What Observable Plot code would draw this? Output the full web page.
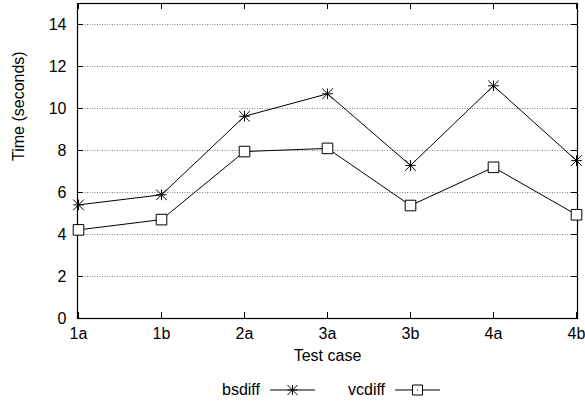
<!DOCTYPE html>
<html>
<head>
<meta charset="utf-8">
<script src="https://cdn.jsdelivr.net/npm/d3@7"></script>
<script src="https://cdn.jsdelivr.net/npm/@observablehq/plot@0.6"></script>
<style>
  html, body { margin: 0; padding: 0; background: #fff; }
  #chart { width: 585px; font-family: "Liberation Sans", Arial, Helvetica, sans-serif; }
  #legend { position: relative; height: 35px; font-size: 16px; color: #000; }
  #legend .item { position: absolute; top: 13px; display: flex; align-items: center; height: 18px; }
  #legend svg { margin-left: 10px; overflow: visible; }
</style>
</head>
<body>
<div id="chart"></div>
<script>
// Timing results per test case
const cases = ["1a", "1b", "2a", "3a", "3b", "4a", "4b"];
const bsdiff = [5.41, 5.89, 9.63, 10.70, 7.29, 11.08, 7.52];
const vcdiff = [4.22, 4.71, 7.95, 8.10, 5.38, 7.20, 4.94];
const yTicks = [0, 2, 4, 6, 8, 10, 12, 14];
const seriesNames = ["bsdiff", "vcdiff"];

const rows = cases.map((c, i) => ({case: c, bsdiff: bsdiff[i], vcdiff: vcdiff[i]}));

// Point symbols: an eight-armed star and an open square
const star = {
  draw(ctx, size) {
    const h = Math.sqrt(size / Math.PI);
    ctx.moveTo(-h, 0); ctx.lineTo(h, 0);
    ctx.moveTo(0, -h); ctx.lineTo(0, h);
    ctx.moveTo(-h, -h); ctx.lineTo(h, h);
    ctx.moveTo(-h, h); ctx.lineTo(h, -h);
  }
};
const box = {
  draw(ctx, size) {
    const h = Math.sqrt(size / Math.PI);
    ctx.rect(-h, -h, 2 * h, 2 * h);
  }
};

const W = 585, H = 368, mL = 77, mR = 8, mT = 3, mB = 50;
const innerW = W - mL - mR, innerH = H - mT - mB, tick = 6;

const plot = Plot.plot({
  width: W,
  height: H,
  marginLeft: mL,
  marginRight: mR,
  marginTop: mT,
  marginBottom: mB,
  style: {fontFamily: "'Liberation Sans', Arial, Helvetica, sans-serif", fontSize: "16px", color: "#000", background: "#fff"},
  x: {type: "point", domain: cases, padding: 0},
  y: {domain: [0, 15]},
  marks: [
    // dotted horizontal grid
    Plot.ruleY(yTicks.filter(d => d > 0), {stroke: "#777", strokeDasharray: "1,1.5", strokeWidth: 0.9}),
    // inward ticks on all four sides
    Plot.ruleX(cases, {x: d => d, insetTop: innerH - tick, stroke: "#000"}),
    Plot.ruleX(cases, {x: d => d, insetBottom: innerH - tick, stroke: "#000"}),
    Plot.ruleY(yTicks, {y: d => d, insetRight: innerW - tick, stroke: "#000"}),
    Plot.ruleY(yTicks, {y: d => d, insetLeft: innerW - tick, stroke: "#000"}),
    Plot.frame({stroke: "#000", strokeWidth: 1.2}),
    Plot.axisX({ticks: cases, tickSize: 0, tickPadding: 9, label: null}),
    Plot.axisY({ticks: yTicks, tickSize: 0, tickPadding: 11, label: null}),
    Plot.text(["Test case"], {frameAnchor: "bottom", dy: 42, text: d => d}),
    Plot.text(["Time (seconds)"], {frameAnchor: "left", rotate: -90, dx: -59, text: d => d}),
    // series
    Plot.line(rows, {x: "case", y: "bsdiff", stroke: "#000", strokeWidth: 1}),
    Plot.line(rows, {x: "case", y: "vcdiff", stroke: "#000", strokeWidth: 1}),
    Plot.dot(rows, {x: "case", y: "bsdiff", symbol: star, r: 5.3, stroke: "#000", fill: "none", strokeWidth: 1}),
    Plot.dot(rows, {x: "case", y: "vcdiff", symbol: box, r: 5.3, stroke: "#000", fill: "#fff", strokeWidth: 1})
  ]
});

const chart = document.getElementById("chart");
chart.appendChild(plot);

// Key below the plot: name, then a short line with the series' point symbol
const legend = document.createElement("div");
legend.id = "legend";
const ns = "http://www.w3.org/2000/svg";
const lefts = [222, 348];
seriesNames.forEach((name, i) => {
  const item = document.createElement("div");
  item.className = "item";
  item.style.left = lefts[i] + "px";
  const label = document.createElement("span");
  label.textContent = name;
  item.appendChild(label);
  const svg = document.createElementNS(ns, "svg");
  svg.setAttribute("width", 45);
  svg.setAttribute("height", 12);
  const g = d3.select(svg);
  g.append("line").attr("x1", 0).attr("x2", 45).attr("y1", 6).attr("y2", 6).attr("stroke", "#000");
  const sym = i === 0 ? star : box;
  g.append("path")
    .attr("transform", "translate(22.5,6)")
    .attr("d", d3.symbol(sym, Math.PI * 5 * 5)())
    .attr("fill", i === 0 ? "none" : "#fff")
    .attr("stroke", "#000");
  if (i === 1) g.append("circle").attr("cx", 22.5).attr("cy", 6).attr("r", 0.6).attr("fill", "#000");
  item.appendChild(svg);
  legend.appendChild(item);
});
chart.appendChild(legend);
</script>
</body>
</html>
